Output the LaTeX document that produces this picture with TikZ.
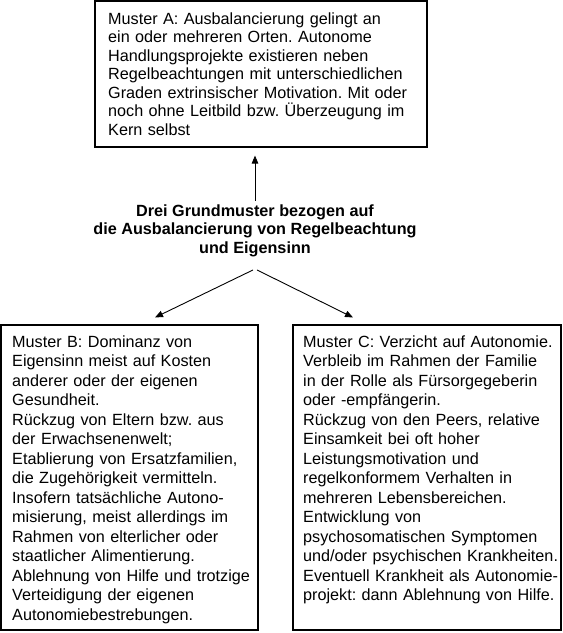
\documentclass[tikz,border=0pt]{standalone}
\usepackage{fontspec}
\setmainfont{Liberation Sans}
\usetikzlibrary{arrows.meta, positioning}
\frenchspacing

\begin{document}
\begin{tikzpicture}[
    x=1pt, y=-1pt,
    musterbox/.style={draw, line width=1.1pt, inner sep=0pt},
    mustertext/.style={anchor=base west, align=left, inner sep=0pt, text width=340pt},
    arr/.style={-{Triangle[length=8pt, width=6.5pt]}, line width=0.9pt}
]
    \useasboundingbox (0,0) rectangle (563,633);

    % Muster A
    \node[musterbox, minimum width=332pt, minimum height=146pt] (boxa) at (261, 74) {};
    \node[mustertext, font=\fontsize{16.2}{18.5}\selectfont] (texta) at (108, 24) {Muster A: Ausbalancierung gelingt an\\ein oder mehreren Orten. Autonome\\Handlungsprojekte existieren neben\\Regelbeachtungen mit unterschiedlichen\\Graden extrinsischer Motivation. Mit oder\\noch ohne Leitbild bzw. Überzeugung im\\Kern selbst};

    % Grundmuster
    \node[align=center, anchor=base, font=\fontsize{16.2}{18.5}\selectfont\bfseries] (grund) at (255, 253) {Drei Grundmuster bezogen auf\\die Ausbalancierung von Regelbeachtung\\und Eigensinn};

    % Muster B
    \node[musterbox, minimum width=257pt, minimum height=305pt] (boxb) at (129.5, 477.5) {};
    \node[mustertext, font=\fontsize{16.2}{19.5}\selectfont] (textb) at (12, 347) {Muster B: Dominanz von\\Eigensinn meist auf Kosten\\anderer oder der eigenen\\Gesundheit.\\Rückzug von Eltern bzw. aus\\der Erwachsenenwelt;\\Etablierung von Ersatzfamilien,\\die Zugehörigkeit vermitteln.\\Insofern tatsächliche Autono-\\misierung, meist allerdings im\\Rahmen von elterlicher oder\\staatlicher Alimentierung.\\Ablehnung von Hilfe und trotzige\\Verteidigung der eigenen\\Autonomiebestrebungen.};

    % Muster C
    \node[musterbox, minimum width=268pt, minimum height=305pt] (boxc) at (427, 477.5) {};
    \node[mustertext, font=\fontsize{16.2}{19.5}\selectfont] (textc) at (303, 347) {Muster C: Verzicht auf Autonomie.\\Verbleib im Rahmen der Familie\\in der Rolle als Fürsorgegeberin\\oder -empfängerin.\\Rückzug von den Peers, relative\\Einsamkeit bei oft hoher\\Leistungsmotivation und\\regelkonformem Verhalten in\\mehreren Lebensbereichen.\\Entwicklung von\\psychosomatischen Symptomen\\und/oder psychischen Krankheiten.\\Eventuell Krankheit als Autonomie-\\projekt: dann Ablehnung von Hilfe.};

    % Pfeile
    \draw[arr, shorten >=8pt] (grund.north) -- (grund.north |- boxa.south);
    \draw[arr] ([xshift=-2pt, yshift=-10pt]grund.south) -- ([xshift=25.5pt, yshift=7pt]boxb.north);
    \draw[arr] ([xshift=2pt, yshift=-10pt]grund.south) -- ([xshift=-74pt, yshift=7pt]boxc.north);
\end{tikzpicture}
\end{document}
